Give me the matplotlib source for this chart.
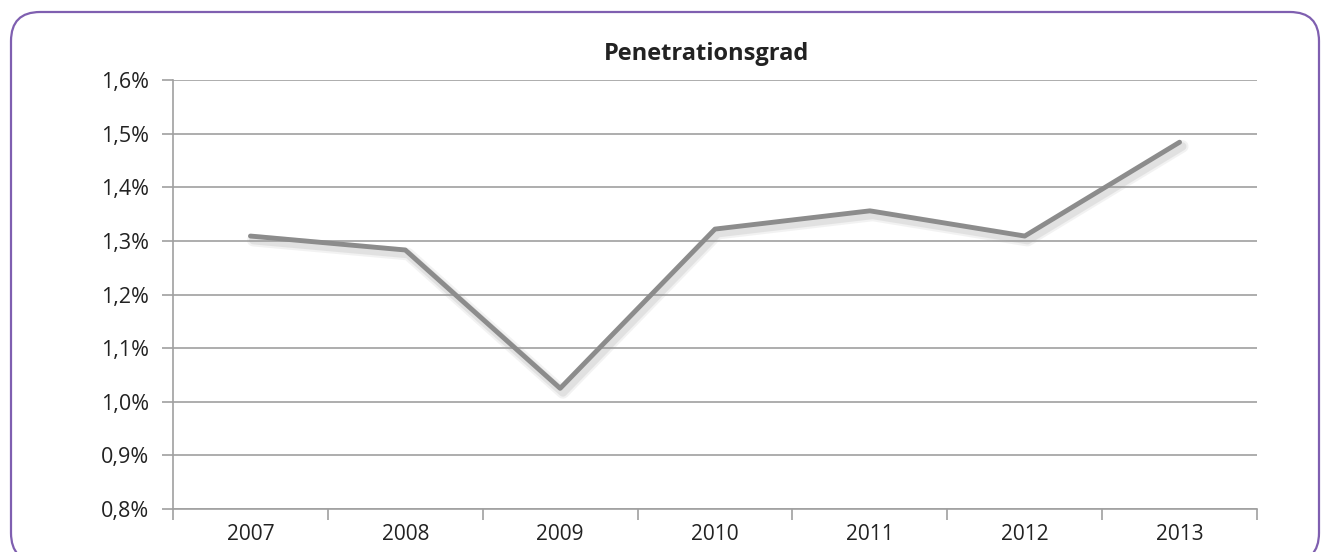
import matplotlib.pyplot as plt
import matplotlib.patheffects as pe
from matplotlib.patches import FancyBboxPatch

# Data
years = ["2007", "2008", "2009", "2010", "2011", "2012", "2013"]
values = [1.309, 1.283, 1.025, 1.322, 1.356, 1.309, 1.484]  # in %
y_ticks = [0.8, 0.9, 1.0, 1.1, 1.2, 1.3, 1.4, 1.5, 1.6]
y_labels = ["0,8%", "0,9%", "1,0%", "1,1%", "1,2%", "1,3%", "1,4%", "1,5%", "1,6%"]

plt.rcParams['font.family'] = ['Open Sans', 'DejaVu Sans']

fig = plt.figure(figsize=(13.23, 5.52), dpi=100)

# rounded purple border (behind the axes), bottom runs off the image
border = FancyBboxPatch((11 / 1323, -10 / 552), 1308 / 1323, 550 / 552,
                        boxstyle="round,pad=0,rounding_size=0.022",
                        transform=fig.transFigure, facecolor='white',
                        edgecolor='#7F5FB0', linewidth=1.6,
                        mutation_aspect=1323 / 552, zorder=-5)
fig.patches.append(border)

ax = fig.add_axes([173 / 1323, 1 - 509 / 552, (1257 - 173) / 1323, (509 - 80) / 552])
ax.set_facecolor('none')
ax.set_zorder(2)

x = list(range(len(years)))
shadow = [pe.SimpleLineShadow(offset=(2, -3), shadow_color='#999999', alpha=0.12, linewidth=9),
          pe.SimpleLineShadow(offset=(2, -3), shadow_color='#999999', alpha=0.18, linewidth=6),
          pe.Normal()]
ax.plot(x, values, color='#8C8C8C', linewidth=3.5, solid_capstyle='round',
        path_effects=shadow, zorder=3)

ax.set_xlim(-0.5, len(years) - 0.5)
ax.set_ylim(0.8, 1.6)
ax.set_yticks(y_ticks)
ax.set_yticklabels(y_labels)
ax.set_xticks(x)
ax.set_xticklabels(years)
ax.set_xticks([i - 0.5 for i in range(len(years) + 1)], minor=True)

ax.grid(axis='y', color='#A0A0A0', linewidth=1.2, zorder=1)
for s in ['top', 'right']:
    ax.spines[s].set_visible(False)
for s in ['left', 'bottom']:
    ax.spines[s].set_color('#A0A0A0')
    ax.spines[s].set_linewidth(1.2)

ax.tick_params(axis='y', length=8, width=1.2, color='#A0A0A0', labelsize=15.5, pad=9, labelcolor='#222222')
ax.tick_params(axis='x', which='major', length=0, labelsize=15, pad=11, labelcolor='#222222')
ax.tick_params(axis='x', which='minor', length=8, width=1.2, color='#A0A0A0')

fig.text(706 / 1323, 1 - 54 / 552, "Penetrationsgrad", ha='center', va='center',
         fontsize=17, fontweight='bold', color='#222222')

fig.savefig("out.png", dpi=100)
